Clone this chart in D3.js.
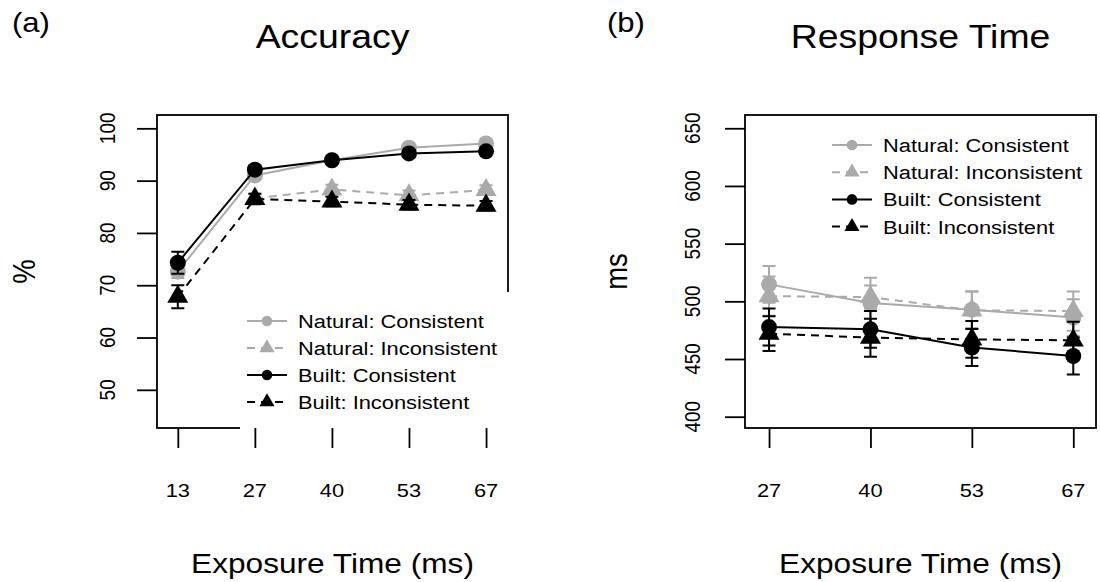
<!DOCTYPE html>
<html>
<head>
<meta charset="utf-8">
<script src="https://cdn.jsdelivr.net/npm/d3@7"></script>
<style>
  body { margin: 0; background: #fff; }
  svg text { font-family: "Liberation Sans", Arial, sans-serif; fill: #000; }
</style>
</head>
<body>
<svg id="chart" width="1100" height="582"></svg>
<script>
// exposure times (ms) used as x categories
var accTimes = ['13', '27', '40', '53', '67'];
var rtTimes = ['27', '40', '53', '67'];

var seriesNames = ['Natural: Consistent', 'Natural: Inconsistent', 'Built: Consistent', 'Built: Inconsistent'];

// accuracy (%), mean and standard error
var accNatCon = [72.6, 91.0, 93.9, 96.3, 97.1];
var accNatConSE = [1.2, 0.8, 0.6, 0.5, 0.5];
var accNatInc = [null, 86.6, 88.3, 87.2, 88.2];
var accNatIncSE = [null, 0.9, 0.9, 0.9, 0.9];
var accBuiCon = [74.3, 92.1, 93.9, 95.2, 95.6];
var accBuiConSE = [2.1, 0.8, 0.6, 0.6, 0.6];
var accBuiInc = [67.8, 86.5, 86.0, 85.4, 85.2];
var accBuiIncSE = [2.2, 1.0, 0.9, 0.9, 0.9];

// response time (ms), mean and standard error
var rtNatCon = [514.7, 498.5, 492.8, 485.9];
var rtNatConSE = [16, 22, 16, 16];
var rtNatInc = [504.5, 503.7, 492.2, 491.6];
var rtNatIncSE = [17, 10, 16, 17];
var rtBuiCon = [477.7, 475.7, 460.0, 452.6];
var rtBuiConSE = [16, 16, 16, 16];
var rtBuiInc = [472.0, 468.5, 467.0, 466.2];
var rtBuiIncSE = [15, 16.5, 16, 16];

var accTicks = [50, 60, 70, 80, 90, 100];
var rtTicks = [400, 450, 500, 550, 600, 650];

// look of each series (same order as seriesNames)
var GRAY = '#aaaaaa';
var seriesStyle = [
  { color: GRAY, dash: null, shape: 'circle' },
  { color: GRAY, dash: '8,6', shape: 'triangle' },
  { color: '#000', dash: null, shape: 'circle' },
  { color: '#000', dash: '8,6', shape: 'triangle' },
];

const STRETCH = 1.15; // the original figure is a bit wider than tall

var svg = d3.select('#chart');

function addText(g, x, y, str, size, anchor, rot) {
  return g.append('text')
    .attr('transform', `translate(${x},${y}) scale(${STRETCH},1)` + (rot ? ` rotate(${rot})` : ''))
    .attr('font-size', size)
    .attr('text-anchor', anchor || 'middle')
    .text(str);
}

function triPath(cx, cy, s) {
  // R pch 17 proportions
  return `M${cx},${cy - 1.555 * s}L${cx + 1.347 * s},${cy + 0.778 * s}L${cx - 1.347 * s},${cy + 0.778 * s}Z`;
}

function drawMarker(g, shape, cx, cy, color, small) {
  if (shape === 'circle') {
    g.append('circle').attr('cx', cx).attr('cy', cy).attr('r', small ? 5.3 : 8).attr('fill', color);
  } else {
    g.append('path').attr('d', triPath(cx, cy, small ? 5.6 : 7.8)).attr('fill', color);
  }
}

function drawPanel(p) {
  var g = svg.append('g');
  var x = d3.scaleLinear().domain(p.xDomain).range([p.left, p.right]);
  var y = d3.scaleLinear().domain(p.yDomain).range([p.bottom, p.top]);

  // series: line, error bars, markers
  p.series.forEach((s, i) => {
    var st = seriesStyle[i];
    var pts = s.mean.map((v, j) => ({ i: j + 1, v: v, se: s.se[j] })).filter((d) => d.v != null);

    g.append('path')
      .datum(pts)
      .attr('fill', 'none')
      .attr('stroke', st.color)
      .attr('stroke-width', 2)
      .attr('stroke-dasharray', st.dash)
      .attr('d', d3.line().x((d) => x(d.i)).y((d) => y(d.v)));

    pts.forEach((d) => {
      var cx = x(d.i);
      var y1 = y(d.v + d.se), y2 = y(d.v - d.se);
      g.append('path')
        .attr('d', `M${cx},${y1}V${y2}M${cx - 6.5},${y1}H${cx + 6.5}M${cx - 6.5},${y2}H${cx + 6.5}`)
        .attr('fill', 'none')
        .attr('stroke', st.color)
        .attr('stroke-width', 2);
    });

    pts.forEach((d) => drawMarker(g, st.shape, x(d.i), y(d.v), st.color, false));
  });

  // box
  g.append('rect')
    .attr('x', p.left).attr('y', p.top)
    .attr('width', p.right - p.left).attr('height', p.bottom - p.top)
    .attr('fill', 'none').attr('stroke', '#000').attr('stroke-width', 1.8);

  // legend background (covers the frame where it overlaps, as in the original)
  if (p.legendBg) {
    g.append('rect')
      .attr('x', p.legendBg[0]).attr('y', p.legendBg[1])
      .attr('width', p.legendBg[2]).attr('height', p.legendBg[3])
      .attr('fill', '#fff');
  }

  // y axis ticks
  var yAxis = g.append('g')
    .attr('transform', `translate(${p.left},0)`)
    .call(d3.axisLeft(y).tickValues(p.yTicks).tickSize(20).tickFormat(''));
  yAxis.select('.domain').remove();
  yAxis.selectAll('line').attr('stroke', '#000').attr('stroke-width', 1.8);
  p.yTicks.forEach((t) => addText(g, p.yLabelX, y(t), t, 19, 'middle', -90));

  // x axis ticks
  var xAxis = g.append('g')
    .attr('transform', `translate(0,${p.bottom})`)
    .call(d3.axisBottom(x).tickValues(d3.range(1, p.xLabels.length + 1)).tickSize(20).tickFormat(''));
  xAxis.select('.domain').remove();
  xAxis.selectAll('line').attr('stroke', '#000').attr('stroke-width', 1.8);
  p.xLabels.forEach((t, j) => addText(g, x(j + 1), 497, t, 19, 'middle'));

  // legend entries
  seriesNames.forEach((name, i) => {
    var st = seriesStyle[i];
    var ly = p.legendY + i * p.legendStep;
    g.append('line')
      .attr('x1', p.legendX).attr('x2', p.legendX + 40)
      .attr('y1', ly).attr('y2', ly)
      .attr('stroke', st.color).attr('stroke-width', 2)
      .attr('stroke-dasharray', st.dash);
    drawMarker(g, st.shape, p.legendX + 20, ly, st.color, true);
    addText(g, p.legendX + 51, ly + 7, name, 19, 'start');
  });

  // titles
  var cx = (p.left + p.right) / 2;
  addText(g, cx, 48, p.title, 32.5, 'middle');
  addText(g, p.tagX, 32, p.tag, 27, 'start');
  addText(g, cx, 573, 'Exposure Time (ms)', 27.5, 'middle');
  addText(g, p.yTitleX, (p.top + p.bottom) / 2, p.yTitle, 27.5, 'middle', -90);
}

drawPanel({
  left: 157, right: 508, top: 115, bottom: 428,
  xDomain: [0.73, 5.285], yDomain: [42.7, 102.55],
  xLabels: accTimes, yTicks: accTicks, yLabelX: 115,
  series: [
    { mean: accNatCon, se: accNatConSE },
    { mean: accNatInc, se: accNatIncSE },
    { mean: accBuiCon, se: accBuiConSE },
    { mean: accBuiInc, se: accBuiIncSE },
  ],
  legendX: 247, legendY: 321, legendStep: 27,
  legendBg: [240, 292, 275, 137.5],
  title: 'Accuracy', tag: '(a)', tagX: 12,
  yTitle: '%', yTitleX: 35,
});

drawPanel({
  left: 745, right: 1096, top: 115, bottom: 428,
  xDomain: [0.763, 4.224], yDomain: [390.2, 661.5],
  xLabels: rtTimes, yTicks: rtTicks, yLabelX: 700,
  series: [
    { mean: rtNatCon, se: rtNatConSE },
    { mean: rtNatInc, se: rtNatIncSE },
    { mean: rtBuiCon, se: rtBuiConSE },
    { mean: rtBuiInc, se: rtBuiIncSE },
  ],
  legendX: 832, legendY: 145, legendStep: 27.2,
  legendBg: null,
  title: 'Response Time', tag: '(b)', tagX: 607,
  yTitle: 'ms', yTitleX: 627,
});
</script>
</body>
</html>
